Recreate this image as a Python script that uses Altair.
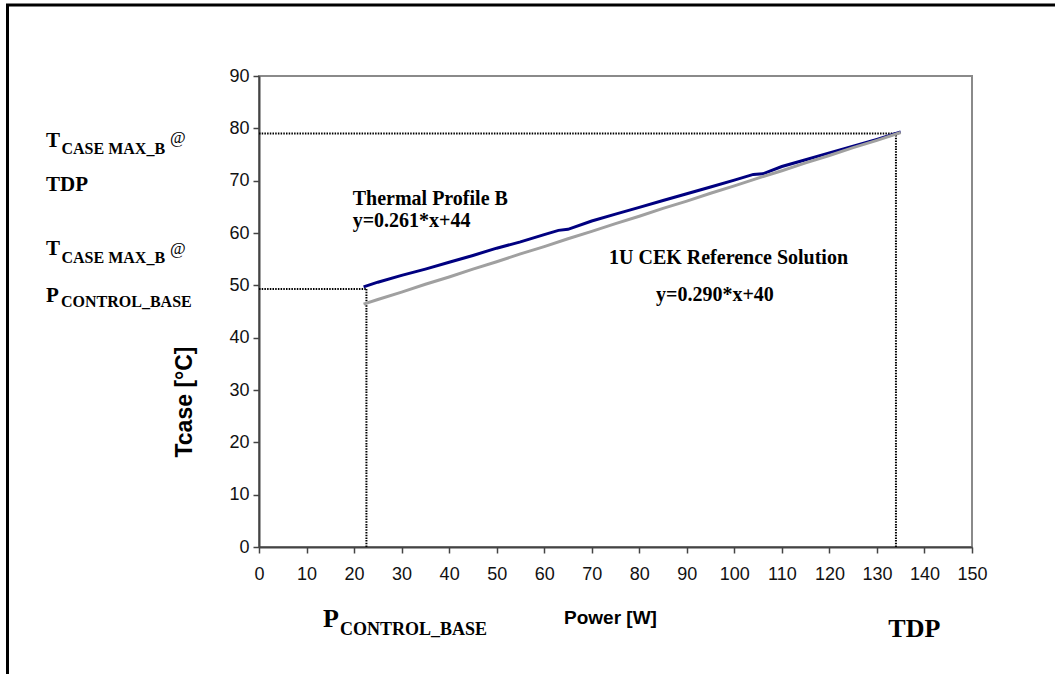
import altair as alt
import pandas as pd

# ---- data ----
power_b = [22, 25, 30, 35, 40, 45, 50, 55, 60, 63, 65, 70, 75, 80, 85, 90, 95, 100, 104, 106, 110, 115, 120, 125, 130, 135]
tcase_b = [49.7, 50.6, 51.9, 53.1, 54.4, 55.7, 57.1, 58.3, 59.7, 60.5, 60.7, 62.3, 63.6, 64.9, 66.2, 67.5, 68.8, 70.1, 71.2, 71.3, 72.7, 74.0, 75.3, 76.6, 77.9, 79.3]
power_cek = [22, 25, 30, 35, 40, 45, 50, 55, 60, 65, 70, 75, 80, 85, 90, 95, 100, 105, 110, 115, 120, 125, 130, 135]
tcase_cek = [46.4, 47.3, 48.7, 50.2, 51.6, 53.1, 54.5, 56.0, 57.4, 58.9, 60.3, 61.8, 63.2, 64.7, 66.1, 67.6, 69.0, 70.5, 71.9, 73.4, 74.8, 76.3, 77.7, 79.2]
series_names = ["Thermal Profile B", "1U CEK Reference Solution"]
series_colors = ["#000080", "#a0a0a0"]

p_control_base = 22.6
t_at_p_control = 49.3
tdp = 134.0
t_at_tdp = 79.0

x_ticks = list(range(0, 151, 10))
y_ticks = list(range(0, 91, 10))

df = pd.concat([
    pd.DataFrame({"power": power_b, "tcase": tcase_b, "series": series_names[0]}),
    pd.DataFrame({"power": power_cek, "tcase": tcase_cek, "series": series_names[1]}),
])

W, H = 713, 471

xs = alt.Scale(domain=[0, 150], nice=False)
ys = alt.Scale(domain=[0, 90], nice=False)

x_axis = alt.Axis(values=x_ticks, title=None, labelPadding=12, labelFlush=False, labelOverlap=False)
y_axis = alt.Axis(values=y_ticks, title=None, labelPadding=4, labelFlush=False, labelOverlap=False)

ref = pd.DataFrame({
    "x": [0, tdp, 0, p_control_base],
    "x2": [tdp, tdp, p_control_base, p_control_base],
    "y": [t_at_tdp, 0, t_at_p_control, 0],
    "y2": [t_at_tdp, t_at_tdp, t_at_p_control, t_at_p_control],
})

rules = alt.Chart(ref).mark_rule(color="black", strokeWidth=2, strokeDash=[1.5, 1.2]).encode(
    x=alt.X("x:Q", scale=xs, axis=x_axis),
    x2="x2:Q",
    y=alt.Y("y:Q", scale=ys, axis=y_axis),
    y2="y2:Q",
)

lines = alt.Chart(df).mark_line(strokeWidth=3).encode(
    x=alt.X("power:Q", scale=xs, axis=x_axis),
    y=alt.Y("tcase:Q", scale=ys, axis=y_axis),
    color=alt.Color("series:N", scale=alt.Scale(domain=series_names, range=series_colors), legend=None),
    order=alt.Order("power:Q"),
)

one = pd.DataFrame({"k": [0]})


def txt(s, x, y, size, font="Liberation Serif", bold=True, angle=0, align="left", baseline="alphabetic"):
    mk = dict(text=s, font=font, fontSize=size, fontWeight="bold" if bold else "normal",
              align=align, baseline=baseline, color="black")
    if angle:
        mk["angle"] = angle
    return alt.Chart(one).mark_text(**mk).encode(x=alt.value(x), y=alt.value(y))


texts = [
    # left annotations
    txt("T", -213, 70.7, 21),
    txt("CASE MAX_B", -197.5, 78, 16),
    txt("@", -89, 67, 17, bold=False),
    txt("TDP", -213, 114.7, 21),
    txt("T", -213, 179, 21),
    txt("CASE MAX_B", -197.5, 187.3, 16),
    txt("@", -89, 177.5, 17, bold=False),
    txt("P", -213, 225.7, 21),
    txt("CONTROL_BASE", -198, 231.3, 16),
    # bottom annotations
    txt("P", 64, 551.3, 26),
    txt("CONTROL_BASE", 81, 559, 18),
    txt("TDP", 629.3, 561.3, 26),
    # in-plot annotations
    txt("Thermal Profile B", 93.7, 129, 20),
    txt("y=0.261*x+44", 93.7, 151.3, 20),
    txt("1U CEK Reference Solution", 350, 187.5, 20),
    txt("y=0.290*x+40", 397, 225, 20),
    # axis titles
    txt("Power [W]", 351.5, 548.3, 19, font="Liberation Sans", align="center"),
    txt("Tcase [°C]", -74, 326, 23, font="Liberation Sans", angle=270, align="center", baseline="middle"),
]

# outer page frame (only left and top edges fall inside the picture)
frame = alt.Chart(one).mark_rect(fill="transparent", stroke="black", strokeWidth=3).encode(
    x=alt.value(-251.5), x2=alt.value(900), y=alt.value(-71), y2=alt.value(700))

chart = alt.layer(frame, rules, lines, *texts).properties(
    width=W, height=H,
    autosize=alt.AutoSizeParams(type="none"),
    padding={"left": 259, "top": 76, "right": 1055 - 259 - W, "bottom": 674 - 76 - H},
    background="white",
).configure_view(
    stroke="#8a8a8a", strokeWidth=2
).configure_axis(
    grid=False,
    domainColor="#444", domainWidth=2,
    tickColor="#444", tickWidth=1.5, tickSize=6,
    labelFont="Liberation Sans", labelFontSize=18, labelColor="#111",
)

chart.save("out.html", embed_options={"renderer": "svg", "actions": False})
